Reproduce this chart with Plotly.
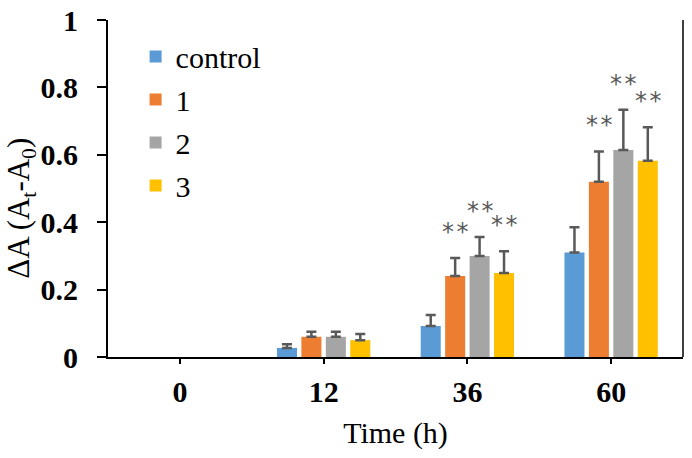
import plotly.graph_objects as go

categories = ["0", "12", "36", "60"]
series_names = ["control", "1", "2", "3"]
colors = ["#5B9BD5", "#ED7D31", "#A5A5A5", "#FFC000"]

control = [None, 0.027, 0.092, 0.31]
s1 = [None, 0.060, 0.240, 0.520]
s2 = [None, 0.060, 0.300, 0.614]
s3 = [None, 0.050, 0.249, 0.582]
values = [control, s1, s2, s3]

control_err = [None, 0.011, 0.033, 0.075]
s1_err = [None, 0.015, 0.054, 0.090]
s2_err = [None, 0.015, 0.056, 0.120]
s3_err = [None, 0.018, 0.065, 0.100]
errors = [control_err, s1_err, s2_err, s3_err]

# significance marks: (series index, category index)
stars = [(1, 2), (2, 2), (3, 2), (1, 3), (2, 3), (3, 3)]

bargap = 0.32
bargroupgap = 0.18

fig = go.Figure()
for i, name in enumerate(series_names):
    fig.add_trace(go.Bar(
        x=categories, y=values[i], name=name,
        marker=dict(color=colors[i], line=dict(width=0)),
        error_y=dict(type="data", array=errors[i], arrayminus=[0]*len(categories),
                     symmetric=False, color="#595959", thickness=2.5, width=5),
        legendgroup=name,
    ))

slot = (1 - bargap) / len(series_names)
for si, ci in stars:
    xpos = ci + (si - (len(series_names) - 1) / 2) * slot
    fig.add_annotation(
        x=xpos, y=values[si][ci] + errors[si][ci], xref="x", yref="y",
        text="*\u200a*", showarrow=False, yanchor="bottom", yshift=10,
        font=dict(family="DejaVu Sans", size=24, color="#595959"),
    )

# y-axis title
fig.add_annotation(
    x=0, y=0.44, xref="paper", yref="paper", xanchor="center", yanchor="middle",
    xshift=-87, textangle=-90, showarrow=False, borderpad=0,
    text="ΔA (A<sub>t</sub>-A<sub>0</sub>)",
    font=dict(family="Liberation Serif", size=31, color="black"),
)

fig.add_shape(type="line", xref="paper", yref="paper", x0=1, x1=1, y0=0, y1=1,
              line=dict(color="black", width=1.5))

fig.update_layout(
    width=692, height=458,
    margin=dict(l=108, r=9, t=20, b=101),
    paper_bgcolor="white", plot_bgcolor="white",
    barmode="group", bargap=bargap, bargroupgap=bargroupgap,
    font=dict(family="Liberation Serif", color="black"),
    legend=dict(x=0.048, y=0.969, xanchor="left", yanchor="top",
                font=dict(family="Liberation Serif", size=30, color="black"),
                tracegroupgap=1, bgcolor="rgba(0,0,0,0)"),
    xaxis=dict(
        automargin=False,
        showline=True, linecolor="black", linewidth=2,
        ticks="outside", ticklen=5, tickcolor="black", tickwidth=2,
        ticklabelstandoff=2,
        tickfont=dict(family="Liberation Serif", size=30, color="black", weight="bold"),
        title=dict(text="Time (h)", font=dict(family="Liberation Serif", size=30, color="black"), standoff=15),
    ),
    yaxis=dict(
        automargin=False,
        range=[0, 1], dtick=0.2, tick0=0,
        showline=True, linecolor="black", linewidth=2,
        ticks="outside", ticklen=9, tickcolor="black", tickwidth=2,
        ticklabelstandoff=13, ticklabeloverflow="allow",
        showgrid=False, zeroline=False,
        tickformat="~g",
        tickfont=dict(family="Liberation Serif", size=30, color="black", weight="bold"),
    ),
)

fig.write_html("out.html", config={"displayModeBar": False},
               post_script="document.body.style.margin='0';")
